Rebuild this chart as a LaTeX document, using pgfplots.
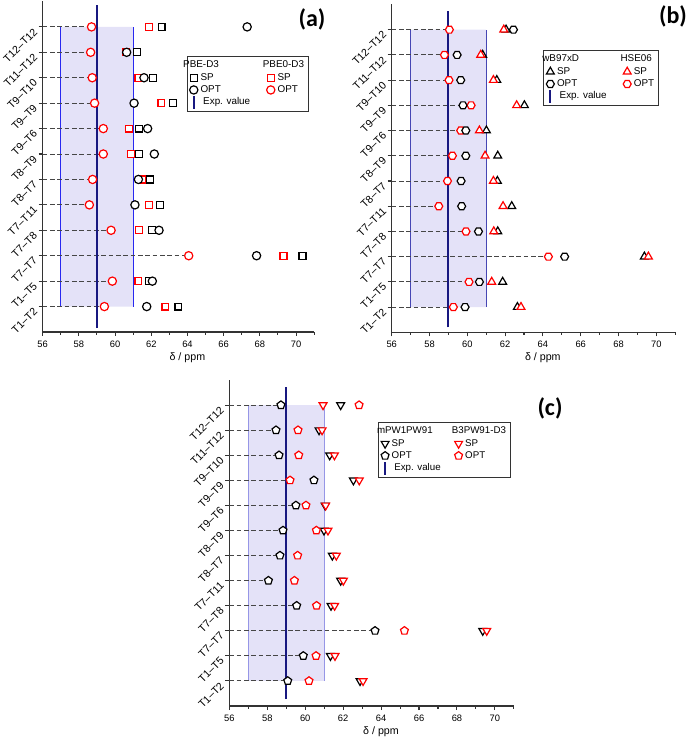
\documentclass[border=0pt]{standalone}
\usepackage{pgfplots}
\pgfplotsset{compat=1.18}
\usepackage{pgfplotstable}
\usepackage{fontspec}
\setmainfont{Liberation Sans}
\newfontfamily\carlito{Carlito}

\definecolor{expcol}{RGB}{24,24,128}
\definecolor{rangeA}{RGB}{40,40,240}
\definecolor{rangeB}{RGB}{70,70,180}
\definecolor{rangeC}{RGB}{150,150,230}
\definecolor{shade}{RGB}{228,226,248}
\definecolor{myred}{RGB}{255,0,0}
\definecolor{dashcol}{RGB}{70,70,70}

\pgfdeclareplotmark{hexagon*}{%
  \pgfpathmoveto{\pgfqpointpolar{0}{\pgfplotmarksize}}%
  \pgfpathlineto{\pgfqpointpolar{60}{\pgfplotmarksize}}%
  \pgfpathlineto{\pgfqpointpolar{120}{\pgfplotmarksize}}%
  \pgfpathlineto{\pgfqpointpolar{180}{\pgfplotmarksize}}%
  \pgfpathlineto{\pgfqpointpolar{240}{\pgfplotmarksize}}%
  \pgfpathlineto{\pgfqpointpolar{300}{\pgfplotmarksize}}%
  \pgfpathclose
  \pgfusepathqfillstroke}

\pgfplotsset{
  panel/.style={
    scale only axis, anchor=south west,
    xmin=56, xmax=71, ymin=0, ymax=13,
    axis x line*=bottom, axis y line*=left,
    xtick={56,58,...,70}, minor xtick={57,59,...,71},
    ytick={1,...,12},
    yticklabels={T1–T2,T1–T5,T7–T7,T7–T8,T7–T11,T8–T7,T8–T9,T9–T6,T9–T9,T9–T10,T11–T12,T12–T12},
    yticklabel style={rotate=45, anchor=east, font=\fontsize{8}{9}\selectfont},
    xticklabel style={font=\fontsize{7}{8}\selectfont},
    /pgf/number format/assume math mode=true,
    tick align=outside, major tick length=3pt, minor tick length=2pt,
    tick style={line width=0.8pt, color=black!80},
    axis line style={line width=0.9pt, color=black!80},
    xlabel={δ / ppm},
    xlabel style={font=\fontsize{8}{9}\selectfont, at={(rel axis cs:0.533,0)}, anchor=center, yshift=-19pt},
    legend columns=2, legend cell align=left,
    legend style={anchor=north west, draw=black!80, line width=0.6pt, fill=white,
      font=\fontsize{7.4}{8}\selectfont, inner sep=1.5pt, row sep=-1.5pt},
  },
  dashline/.style={xcomb, dashcol, line width=0.7pt, dash pattern=on 3.5pt off 2pt, forget plot},
  legmark/.style={legend image code/.code={\draw[##1] plot coordinates {(0.12cm,0cm)};}},
  legexp/.style={legend image code/.code={\draw[expcol, line width=1.3pt] (0.12cm,-0.17cm) -- (0.12cm,0.17cm);}},
  mk/.style 2 args={only marks, mark=#1, mark options={draw=#2, fill=white, line width=0.9pt, solid}},
  mkr/.style 2 args={only marks, mark=#1, mark options={draw=#2, fill=white, line width=0.9pt, solid, rotate=180}},
}

% panel (a): PBE0-D3 OPT (rO), PBE-D3 OPT (bO), PBE0-D3 SP (rS), PBE-D3 SP (bS), row minimum (m)
\pgfplotstableread{
y rO bO rS bS m
1 59.41 61.75 62.78 63.50 59.41
2 59.85 62.06 61.29 61.87 59.85
3 64.07 67.82 69.31 70.36 64.07
4 59.78 62.43 61.32 62.06 59.78
5 58.58 61.10 61.86 62.50 58.58
6 58.76 61.29 61.47 61.95 58.76
7 59.35 62.17 60.90 61.34 59.35
8 59.35 61.80 60.79 61.32 59.35
9 58.87 61.05 62.56 63.20 58.87
10 58.74 61.60 61.29 62.08 58.74
11 58.65 60.64 60.60 61.20 58.60
12 58.70 67.30 61.86 62.57 58.70
}\tabA

% panel (b): wB97xD SP (bS), HSE06 SP (rS), HSE06 OPT (rO), wB97xD OPT (bO)
\pgfplotstableread{
y bS rS rO bO m
1 62.65 62.84 59.26 59.88 59.26
2 61.87 61.29 60.09 60.64 60.09
3 69.37 69.58 64.29 65.15 64.29
4 61.61 61.40 59.93 60.59 59.93
5 62.35 61.89 58.49 59.70 58.49
6 61.59 61.38 58.95 59.67 58.95
7 61.61 60.94 59.21 59.92 59.21
8 61.01 60.64 59.65 59.92 59.65
9 63.02 62.61 60.20 59.77 59.77
10 61.56 61.38 59.03 59.65 59.03
11 60.81 60.71 58.79 59.46 58.79
12 62.05 61.93 59.05 62.44 59.05
}\tabB

% panel (c): mPW1PW91 SP (bS), B3PW91-D3 SP (rS), B3PW91-D3 OPT (rO), mPW1PW91 OPT (bO)
\pgfplotstableread{
y bS rS rO bO m
1 62.89 63.05 60.20 59.08 59.08
2 61.33 61.57 60.57 59.90 59.90
3 69.36 69.57 65.23 63.68 63.68
4 61.36 61.55 60.60 59.55 59.55
5 61.87 62.01 59.43 58.06 58.06
6 61.43 61.64 59.60 58.67 58.67
7 60.99 61.20 60.59 58.83 58.83
8 61.05 61.08 60.04 59.51 59.51
9 62.54 62.85 59.20 60.46 59.20
10 61.29 61.54 59.66 58.62 58.62
11 60.73 60.89 59.62 58.46 58.46
12 61.87 60.94 62.84 58.72 58.72
}\tabC

\begin{document}
\begin{tikzpicture}
\path[use as bounding box] (0,0) rectangle (517.5pt,554.25pt);

% ---------------- (a) ----------------
\begin{axis}[panel, at={(32pt,305.25pt)}, width=203.6pt, height=247.9pt,
  legend style={at={(rel axis cs:0.531,0.835)}, /tikz/every even column/.append style={column sep=10pt}}]
\addplot[fill=shade, draw=none, forget plot] coordinates {(57,1) (61,1) (61,12) (57,12) (57,1)};
\addplot[rangeA, line width=0.8pt, forget plot] coordinates {(57,1) (57,12)};
\addplot[rangeA, line width=0.8pt, forget plot] coordinates {(61,1) (61,12)};
\addplot[dashline] table[x=m, y=y] {\tabA};
\addplot[expcol, line width=1.5pt, forget plot] coordinates {(59,0.15) (59,12.85)};
\addplot[mk={square*}{myred}, mark size=2.6pt, forget plot] table[x=rS, y=y] {\tabA};
\addplot[mk={square*}{black}, mark size=2.6pt, forget plot] table[x=bS, y=y] {\tabA};
\addplot[mk={*}{black}, mark size=3.1pt, forget plot] table[x=bO, y=y] {\tabA};
\addplot[mk={*}{myred}, mark size=3.1pt, forget plot] table[x=rO, y=y] {\tabA};
\addlegendimage{empty legend}\addlegendentry{\hspace*{-13pt}PBE-D3}
\addlegendimage{empty legend}\addlegendentry{\hspace*{-11pt}PBE0-D3}
\addlegendimage{legmark, mk={square*}{black}, mark size=2.6pt}\addlegendentry{SP}
\addlegendimage{legmark, mk={square*}{myred}, mark size=2.6pt}\addlegendentry{SP}
\addlegendimage{legmark, mk={*}{black}, mark size=3.1pt}\addlegendentry{OPT}
\addlegendimage{legmark, mk={*}{myred}, mark size=3.1pt}\addlegendentry{OPT}
\addlegendimage{legexp}\addlegendentry{\hspace*{2pt}Exp. value\rule[-7pt]{0pt}{7pt}}
\end{axis}
\node[font=\carlito\bfseries\fontsize{18}{20}\selectfont] at (234pt,540pt) {(a)};

% ---------------- (b) ----------------
\begin{axis}[panel, at={(293.8pt,305pt)}, width=212.6pt, height=245.9pt,
  legend style={at={(rel axis cs:0.535,0.861)}, /tikz/every even column/.append style={column sep=10pt}}]
\addplot[fill=shade, draw=none, forget plot] coordinates {(57,1) (61,1) (61,12) (57,12) (57,1)};
\addplot[rangeB, line width=0.9pt, forget plot] coordinates {(57,1) (57,12)};
\addplot[rangeB, line width=0.9pt, forget plot] coordinates {(61,1) (61,12)};
\addplot[dashline] table[x=m, y=y] {\tabB};
\addplot[expcol, line width=1.5pt, forget plot] coordinates {(59,0.2) (59,12.75)};
\addplot[mk={triangle*}{black}, mark size=3.4pt, forget plot] table[x=bS, y=y] {\tabB};
\addplot[mk={triangle*}{myred}, mark size=3.4pt, forget plot] table[x=rS, y=y] {\tabB};
\addplot[mk={hexagon*}{myred}, mark size=3pt, forget plot] table[x=rO, y=y] {\tabB};
\addplot[mk={hexagon*}{black}, mark size=3pt, forget plot] table[x=bO, y=y] {\tabB};
\addlegendimage{empty legend}\addlegendentry{\hspace*{-11pt}wB97xD}
\addlegendimage{empty legend}\addlegendentry{\hspace*{-10pt}HSE06}
\addlegendimage{legmark, mk={triangle*}{black}, mark size=3.4pt}\addlegendentry{SP}
\addlegendimage{legmark, mk={triangle*}{myred}, mark size=3.4pt}\addlegendentry{SP}
\addlegendimage{legmark, mk={hexagon*}{black}, mark size=3pt}\addlegendentry{OPT}
\addlegendimage{legmark, mk={hexagon*}{myred}, mark size=3pt}\addlegendentry{OPT}
\addlegendimage{legexp}\addlegendentry{\hspace*{2pt}Exp. value\rule[-7pt]{0pt}{7pt}}
\end{axis}
\node[font=\carlito\bfseries\fontsize{18}{20}\selectfont] at (504.75pt,542.25pt) {(b)};

% ---------------- (c) ----------------
\begin{axis}[panel, at={(172pt,24.75pt)}, width=213.4pt, height=244.5pt,
  legend style={at={(rel axis cs:0.523,0.871)}, font=\fontsize{7.3}{8}\selectfont, /tikz/every even column/.append style={column sep=8pt}}]
\addplot[fill=shade, draw=none, forget plot] coordinates {(57,1) (61,1) (61,12) (57,12) (57,1)};
\addplot[rangeC, line width=0.9pt, forget plot] coordinates {(57,1) (57,12)};
\addplot[rangeC, line width=0.9pt, forget plot] coordinates {(61,1) (61,12)};
\addplot[dashline] table[x=m, y=y] {\tabC};
\addplot[expcol, line width=1.5pt, forget plot] coordinates {(59,0.27) (59,12.72)};
\addplot[mkr={triangle*}{black}, mark size=3.4pt, forget plot] table[x=bS, y=y] {\tabC};
\addplot[mkr={triangle*}{myred}, mark size=3.4pt, forget plot] table[x=rS, y=y] {\tabC};
\addplot[mk={pentagon*}{myred}, mark size=3.1pt, forget plot] table[x=rO, y=y] {\tabC};
\addplot[mk={pentagon*}{black}, mark size=3.1pt, forget plot] table[x=bO, y=y] {\tabC};
\addlegendimage{empty legend}\addlegendentry{\hspace*{-11pt}mPW1PW91}
\addlegendimage{empty legend}\addlegendentry{\hspace*{-10pt}B3PW91-D3}
\addlegendimage{legmark, mkr={triangle*}{black}, mark size=3.4pt}\addlegendentry{SP}
\addlegendimage{legmark, mkr={triangle*}{myred}, mark size=3.4pt}\addlegendentry{SP}
\addlegendimage{legmark, mk={pentagon*}{black}, mark size=3.1pt}\addlegendentry{OPT}
\addlegendimage{legmark, mk={pentagon*}{myred}, mark size=3.1pt}\addlegendentry{OPT}
\addlegendimage{legexp}\addlegendentry{\hspace*{2pt}Exp. value\rule[-7pt]{0pt}{7pt}}
\end{axis}
\node[font=\carlito\bfseries\fontsize{18}{20}\selectfont] at (412.5pt,248.25pt) {(c)};
\end{tikzpicture}
\end{document}
